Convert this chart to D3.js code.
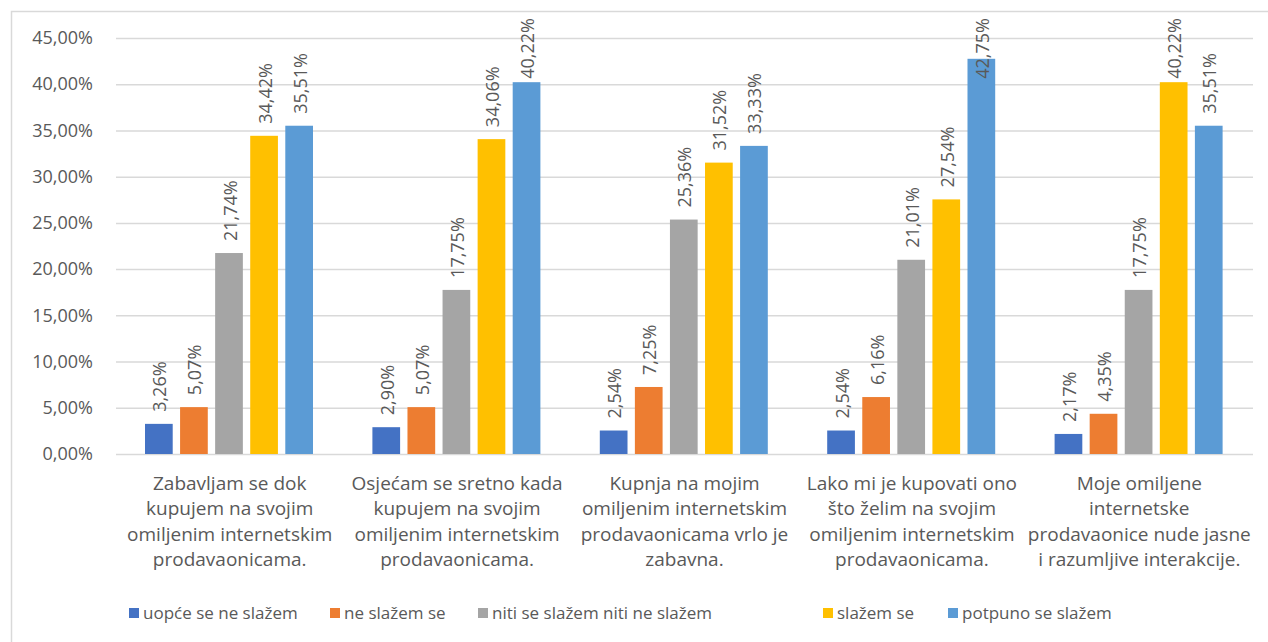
<!DOCTYPE html>
<meta charset="utf-8">
<script src="https://d3js.org/d3.v7.min.js"></script>
<style>
  body { margin: 0; background: #fff; }
  text { font-family: "Open Sans", sans-serif; fill: #595959; }
</style>
<div id="my_dataviz"></div>
<script>

// categories (statements), each split on its printed lines
var categories = [
  ["Zabavljam se dok", "kupujem na svojim", "omiljenim internetskim", "prodavaonicama."],
  ["Osjećam se sretno kada", "kupujem na svojim", "omiljenim internetskim", "prodavaonicama."],
  ["Kupnja na mojim", "omiljenim internetskim", "prodavaonicama vrlo je", "zabavna."],
  ["Lako mi je kupovati ono", "što želim na svojim", "omiljenim internetskim", "prodavaonicama."],
  ["Moje omiljene", "internetske", "prodavaonice nude jasne", "i razumljive interakcije."]
];

var seriesNames = ["uopće se ne slažem", "ne slažem se", "niti se slažem niti ne slažem", "slažem se", "potpuno se slažem"];
var seriesColors = ["#4472c4", "#ed7d31", "#a5a5a5", "#ffc000", "#5b9bd5"];

// values in percent, one array per series
var uopce = [3.26, 2.90, 2.54, 2.54, 2.17];
var neSlazem = [5.07, 5.07, 7.25, 6.16, 4.35];
var niti = [21.74, 17.75, 25.36, 21.01, 17.75];
var slazem = [34.42, 34.06, 31.52, 27.54, 40.22];
var potpuno = [35.51, 40.22, 33.33, 42.75, 35.51];
var seriesValues = [uopce, neSlazem, niti, slazem, potpuno];

var yTicks = [0, 5, 10, 15, 20, 25, 30, 35, 40, 45];

var W = 1268, H = 642;
var svg = d3.select("#my_dataviz").append("svg")
    .attr("width", W).attr("height", H);

// chart border (runs off the right and bottom of the picture)
svg.append("rect")
    .attr("x", 11.5).attr("y", 11.5)
    .attr("width", 1280).attr("height", 660)
    .attr("fill", "none").attr("stroke", "#d9d9d9").attr("stroke-width", 1.5);

var plotLeft = 116, plotRight = 1253, plotTop = 38, plotBottom = 454;

var y = d3.scaleLinear().domain([0, 45]).range([plotBottom, plotTop]);
var x0 = d3.scaleBand().domain(d3.range(categories.length)).range([plotLeft, plotRight]);
var x1 = d3.scaleBand().domain(d3.range(seriesNames.length))
    .range([29, 197]).paddingInner(0.21).paddingOuter(0);

// gridlines + y labels
var yAxis = svg.append("g")
    .attr("transform", "translate(" + plotLeft + ",0)")
    .call(d3.axisLeft(y).tickValues(yTicks).tickSize(-(plotRight - plotLeft)).tickPadding(23)
      .tickFormat(function(d) { return d.toFixed(2).replace(".", ",") + "%"; }));
yAxis.select(".domain").remove();
yAxis.selectAll("line").attr("stroke", "#d9d9d9").attr("stroke-width", 1.5);
yAxis.selectAll("text").style("font-size", "18px").attr("fill", "#595959")
    .style("font-family", "'Open Sans', sans-serif");

// bars
var groups = svg.selectAll(".grp")
  .data(categories)
  .enter().append("g")
    .attr("transform", function(d, i) { return "translate(" + x0(i) + ",0)"; });

seriesNames.forEach(function(s, si) {
  groups.append("rect")
    .attr("x", x1(si))
    .attr("width", x1.bandwidth())
    .attr("y", function(d, ci) { return y(seriesValues[si][ci]); })
    .attr("height", function(d, ci) { return plotBottom - y(seriesValues[si][ci]); })
    .attr("fill", seriesColors[si]);
});

// value labels, rotated, kept inside the chart top
seriesNames.forEach(function(s, si) {
  groups.append("text")
    .text(function(d, ci) { return seriesValues[si][ci].toFixed(2).replace(".", ",") + "%"; })
    .style("font-size", "18px")
    .each(function(d, ci) {
      var len = this.getComputedTextLength();
      var base = Math.max(y(seriesValues[si][ci]) - 12, 18 + len);
      var cx = x1(si) + x1.bandwidth() / 2 + 7.5;
      d3.select(this).attr("transform", "translate(" + cx + "," + base + ") rotate(-90)");
    });
});

// category labels
groups.append("text")
    .attr("text-anchor", "middle")
    .attr("x", x0.bandwidth() / 2)
    .style("font-size", "19px")
  .selectAll("tspan")
  .data(function(d) { return d; })
  .enter().append("tspan")
    .attr("x", x0.bandwidth() / 2)
    .attr("y", function(d, i) { return 490 + i * 25.3; })
    .text(function(d) { return d; });

// legend
var legendX = [129, 330, 478, 823, 948];
var legend = svg.selectAll(".leg")
  .data(seriesNames)
  .enter().append("g")
    .attr("transform", function(d, i) { return "translate(" + legendX[i] + ",608)"; });
legend.append("rect")
    .attr("width", 10).attr("height", 10)
    .attr("fill", function(d, i) { return seriesColors[i]; });
legend.append("text")
    .attr("x", 14).attr("y", 11)
    .style("font-size", "17px")
    .text(function(d) { return d; });

</script>
